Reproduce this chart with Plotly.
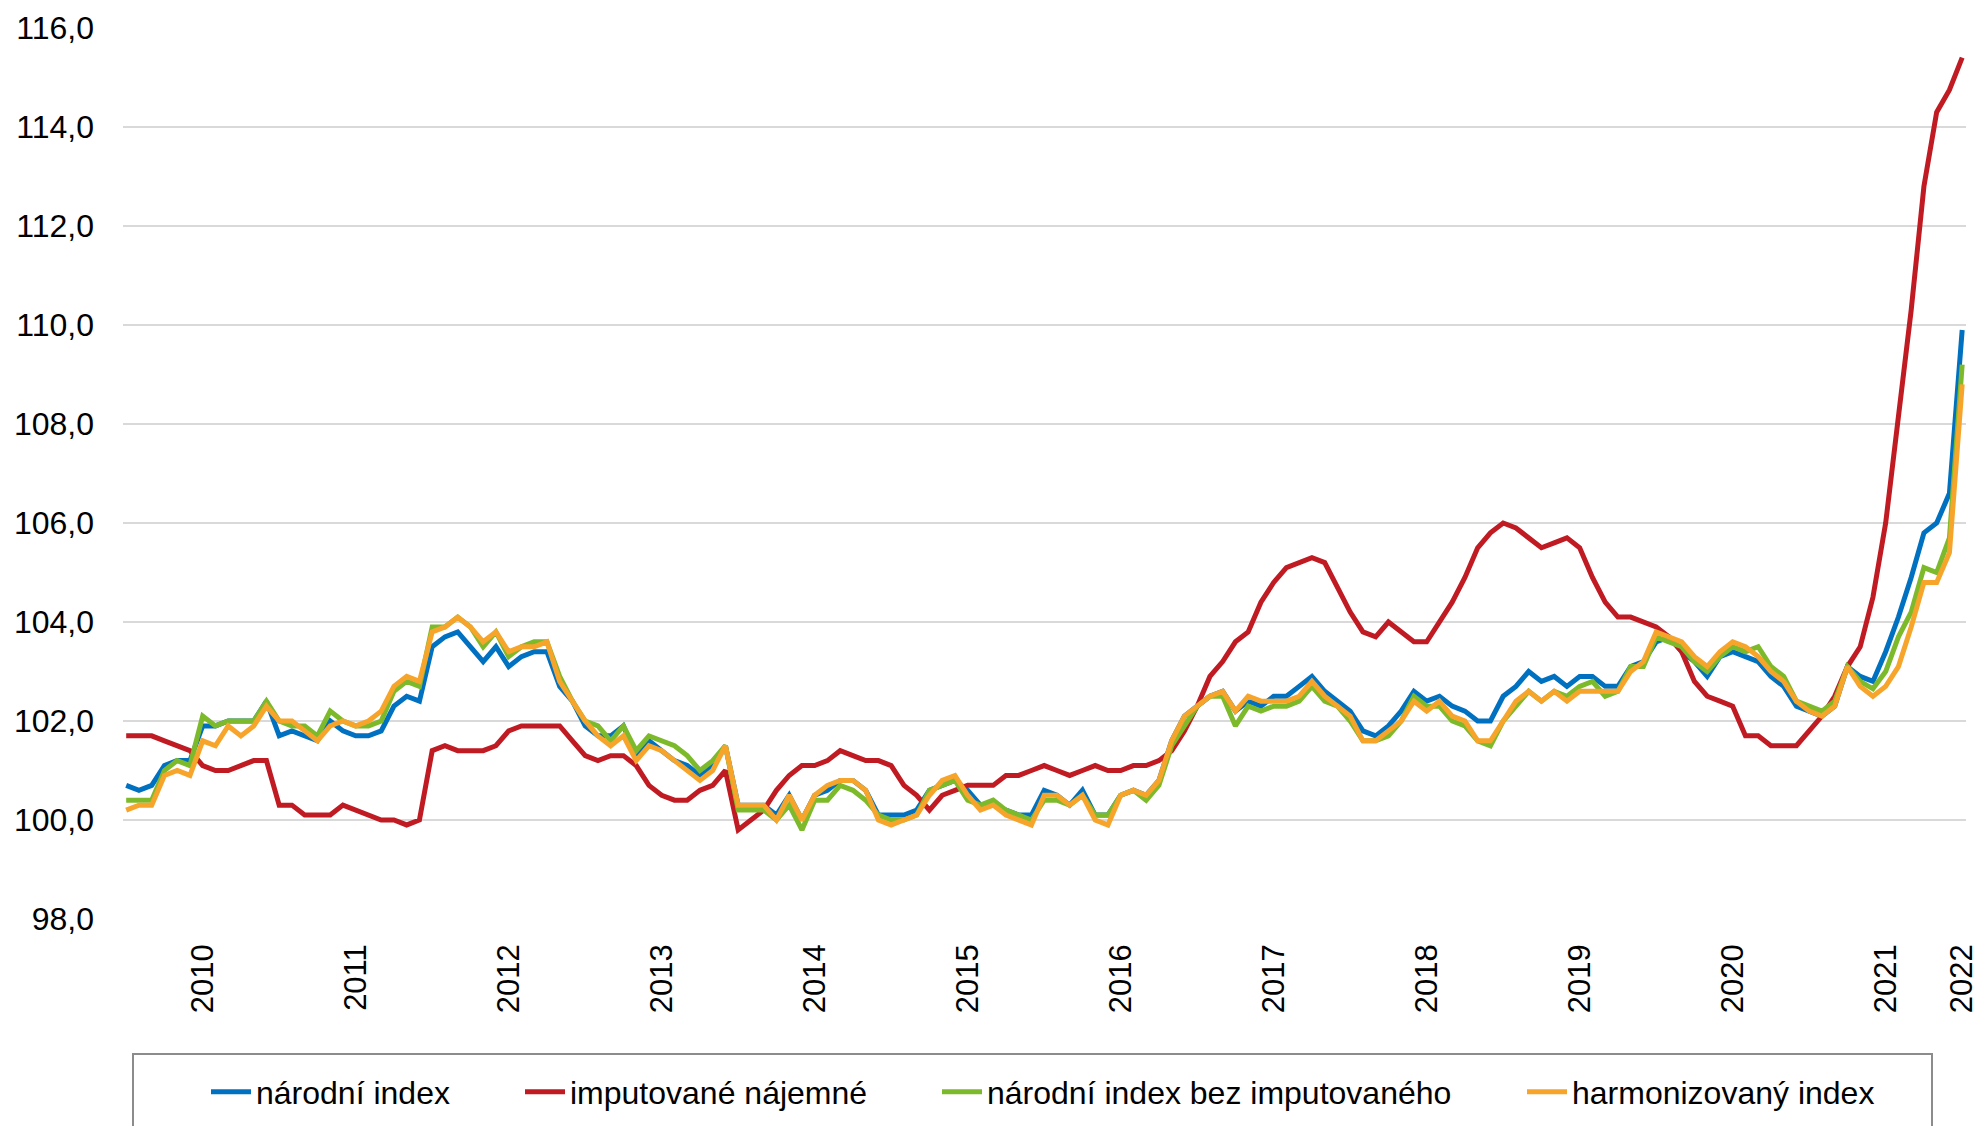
import pandas as pd
import plotly.graph_objects as go

# Monthly observations Jan 2010 - Jan 2022
months = pd.date_range("2010-01-01", "2022-01-01", freq="MS").strftime("%Y-%m").tolist()

narodni_index = [
    100.7, 100.6, 100.7, 101.1, 101.2, 101.2, 101.9, 101.9, 102.0, 102.0, 102.0, 102.4,
    101.7, 101.8, 101.7, 101.6, 102.0, 101.8, 101.7, 101.7, 101.8, 102.3, 102.5, 102.4,
    103.5, 103.7, 103.8, 103.5, 103.2, 103.5, 103.1, 103.3, 103.4, 103.4, 102.7, 102.4,
    101.9, 101.7, 101.7, 101.9, 101.3, 101.6, 101.4, 101.2, 101.1, 100.9, 101.1, 101.5,
    100.3, 100.3, 100.3, 100.1, 100.5, 100.0, 100.5, 100.6, 100.8, 100.8, 100.6, 100.1,
    100.1, 100.1, 100.2, 100.6, 100.7, 100.8, 100.6, 100.3, 100.3, 100.2, 100.1, 100.1,
    100.6, 100.5, 100.3, 100.6, 100.1, 100.1, 100.5, 100.6, 100.5, 100.8, 101.6, 102.1,
    102.3, 102.5, 102.6, 102.2, 102.4, 102.3, 102.5, 102.5, 102.7, 102.9, 102.6, 102.4,
    102.2, 101.8, 101.7, 101.9, 102.2, 102.6, 102.4, 102.5, 102.3, 102.2, 102.0, 102.0,
    102.5, 102.7, 103.0, 102.8, 102.9, 102.7, 102.9, 102.9, 102.7, 102.7, 103.1, 103.2,
    103.6, 103.7, 103.4, 103.2, 102.9, 103.3, 103.4, 103.3, 103.2, 102.9, 102.7, 102.3,
    102.2, 102.1, 102.3, 103.1, 102.9, 102.8, 103.4, 104.1, 104.9, 105.8, 106.0, 106.6,
    109.9,
]

imputovane_najemne = [
    101.7, 101.7, 101.7, 101.6, 101.5, 101.4, 101.1, 101.0, 101.0, 101.1, 101.2, 101.2,
    100.3, 100.3, 100.1, 100.1, 100.1, 100.3, 100.2, 100.1, 100.0, 100.0, 99.9, 100.0,
    101.4, 101.5, 101.4, 101.4, 101.4, 101.5, 101.8, 101.9, 101.9, 101.9, 101.9, 101.6,
    101.3, 101.2, 101.3, 101.3, 101.1, 100.7, 100.5, 100.4, 100.4, 100.6, 100.7, 101.0,
    99.8, 100.0, 100.2, 100.6, 100.9, 101.1, 101.1, 101.2, 101.4, 101.3, 101.2, 101.2,
    101.1, 100.7, 100.5, 100.2, 100.5, 100.6, 100.7, 100.7, 100.7, 100.9, 100.9, 101.0,
    101.1, 101.0, 100.9, 101.0, 101.1, 101.0, 101.0, 101.1, 101.1, 101.2, 101.4, 101.8,
    102.3, 102.9, 103.2, 103.6, 103.8, 104.4, 104.8, 105.1, 105.2, 105.3, 105.2, 104.7,
    104.2, 103.8, 103.7, 104.0, 103.8, 103.6, 103.6, 104.0, 104.4, 104.9, 105.5, 105.8,
    106.0, 105.9, 105.7, 105.5, 105.6, 105.7, 105.5, 104.9, 104.4, 104.1, 104.1, 104.0,
    103.9, 103.7, 103.4, 102.8, 102.5, 102.4, 102.3, 101.7, 101.7, 101.5, 101.5, 101.5,
    101.8, 102.1, 102.5, 103.1, 103.5, 104.5, 106.0, 108.2, 110.3, 112.8, 114.3, 114.75,
    115.4,
]

narodni_bez_imputovaneho = [
    100.4, 100.4, 100.4, 101.0, 101.2, 101.1, 102.1, 101.9, 102.0, 102.0, 102.0, 102.4,
    102.0, 101.9, 101.9, 101.7, 102.2, 102.0, 101.9, 101.9, 102.0, 102.6, 102.8, 102.7,
    103.9, 103.9, 104.1, 103.9, 103.5, 103.8, 103.3, 103.5, 103.6, 103.6, 102.9, 102.4,
    102.0, 101.9, 101.6, 101.9, 101.4, 101.7, 101.6, 101.5, 101.3, 101.0, 101.2, 101.5,
    100.2, 100.2, 100.2, 100.0, 100.3, 99.8, 100.4, 100.4, 100.7, 100.6, 100.4, 100.1,
    100.0, 100.0, 100.1, 100.6, 100.7, 100.8, 100.4, 100.3, 100.4, 100.2, 100.1, 100.0,
    100.4, 100.4, 100.3, 100.5, 100.1, 100.1, 100.5, 100.6, 100.4, 100.7, 101.5, 101.9,
    102.3, 102.5, 102.5, 101.9, 102.3, 102.2, 102.3, 102.3, 102.4, 102.7, 102.4, 102.3,
    102.0, 101.6, 101.6, 101.7, 102.0, 102.5, 102.3, 102.3, 102.0, 101.9, 101.6, 101.5,
    102.0, 102.3, 102.6, 102.4, 102.6, 102.5, 102.7, 102.8, 102.5, 102.6, 103.1, 103.1,
    103.7, 103.6, 103.5, 103.2, 103.0, 103.3, 103.5, 103.4, 103.5, 103.1, 102.9, 102.4,
    102.3, 102.2, 102.4, 103.1, 102.8, 102.65, 103.0, 103.7, 104.2, 105.1, 105.0, 105.7,
    109.2,
]

harmonizovany_index = [
    100.2, 100.3, 100.3, 100.9, 101.0, 100.9, 101.6, 101.5, 101.9, 101.7, 101.9, 102.3,
    102.0, 102.0, 101.8, 101.6, 101.9, 102.0, 101.9, 102.0, 102.2, 102.7, 102.9, 102.8,
    103.8, 103.9, 104.1, 103.9, 103.6, 103.8, 103.4, 103.5, 103.5, 103.6, 102.8, 102.4,
    102.0, 101.7, 101.5, 101.7, 101.2, 101.5, 101.4, 101.2, 101.0, 100.8, 101.0, 101.5,
    100.3, 100.3, 100.3, 100.0, 100.5, 100.0, 100.5, 100.7, 100.8, 100.8, 100.6, 100.0,
    99.9, 100.0, 100.1, 100.5, 100.8, 100.9, 100.5, 100.2, 100.3, 100.1, 100.0, 99.9,
    100.5, 100.5, 100.3, 100.5, 100.0, 99.9, 100.5, 100.6, 100.5, 100.8, 101.6, 102.1,
    102.3, 102.5, 102.6, 102.2, 102.5, 102.4, 102.4, 102.4, 102.5, 102.8, 102.5, 102.3,
    102.1, 101.6, 101.6, 101.8, 102.0, 102.4, 102.2, 102.4, 102.1, 102.0, 101.6, 101.6,
    102.0, 102.4, 102.6, 102.4, 102.6, 102.4, 102.6, 102.6, 102.6, 102.6, 103.0, 103.2,
    103.8, 103.7, 103.6, 103.3, 103.1, 103.4, 103.6, 103.5, 103.3, 103.0, 102.8, 102.4,
    102.2, 102.1, 102.3, 103.1, 102.7, 102.5, 102.7, 103.1, 103.9, 104.8, 104.8, 105.4,
    108.8,
]

tick_months = ["2010-07", "2011-07", "2012-07", "2013-07", "2014-07", "2015-07",
               "2016-07", "2017-07", "2018-07", "2019-07", "2020-07", "2021-07", "2022-01"]
tick_labels = ["2010", "2011", "2012", "2013", "2014", "2015",
               "2016", "2017", "2018", "2019", "2020", "2021", "2022"]

series_names = ["národní index", "imputované nájemné",
                "národní index bez imputovaného", "harmonizovaný index"]
series_values = [narodni_index, imputovane_najemne,
                 narodni_bez_imputovaneho, harmonizovany_index]
series_colors = ["#0070C0", "#C01A22", "#7DBA2B", "#F7A42B"]
legend_ids = ["legend", "legend2", "legend3", "legend4"]

W, H = 1977, 1126
L, R, T, B = 123, 11, 28, 207
pw = W - L - R
ph = H - T - B

def px_x(p):
    return (p - L) / pw

def px_y(p):
    return (H - B - p) / ph

FONT = "Liberation Sans, Arial, sans-serif"

fig = go.Figure()
for name, vals, col, lg in zip(series_names, series_values, series_colors, legend_ids):
    fig.add_trace(go.Scatter(
        x=months, y=vals, mode="lines", name=name,
        line=dict(color=col, width=5),
        legend=lg,
    ))

# Legend item left positions (px) in reference
legend_px = [206, 520, 937, 1522]
legend_layout = {}
for lg, xp in zip(legend_ids, legend_px):
    legend_layout[lg] = dict(
        xref="container", yref="container",
        x=xp / W, xanchor="left", y=1 - 1092 / H, yanchor="middle",
        orientation="h", bgcolor="rgba(0,0,0,0)", borderwidth=0,
        font=dict(family=FONT, size=32, color="#000000"),
        itemwidth=40, tracegroupgap=0,
    )

fig.update_layout(
    width=W, height=H,
    margin=dict(l=L, r=R, t=T, b=B, pad=0, autoexpand=False),
    paper_bgcolor="white", plot_bgcolor="white",
    separators=", ",
    font=dict(family=FONT, size=31, color="#000000"),
    showlegend=True,
    **legend_layout,
    xaxis=dict(
        type="category", range=[-0.25, 144.3], automargin=False,
        tickmode="array", tickvals=tick_months, ticktext=tick_labels,
        tickangle=-90, showgrid=False, showline=False, zeroline=False,
        ticks="", ticklabelstandoff=18,
        tickfont=dict(family=FONT, size=31, color="#000000"),
    ),
    yaxis=dict(
        range=[98, 116], dtick=2, tick0=98, tickformat=".1f", automargin=False,
        showgrid=True, gridcolor="#D9D9D9", gridwidth=2,
        zeroline=False, showline=False, ticks="",
        ticklabelstandoff=28,
        tickfont=dict(family=FONT, size=32, color="#000000"),
    ),
    shapes=[
        dict(type="line", xref="paper", yref="y", x0=0, x1=1, y0=100, y1=100,
             line=dict(color="#000000", width=2), layer="below"),
        dict(type="rect", xref="paper", yref="paper",
             x0=px_x(133), x1=px_x(1932), y0=px_y(1140), y1=px_y(1054),
             line=dict(color="#8C8C8C", width=2), fillcolor="rgba(0,0,0,0)"),
    ],
)

fig.write_html("out.html", config={"displayModeBar": False},
               post_script="document.body.style.margin='0';")
